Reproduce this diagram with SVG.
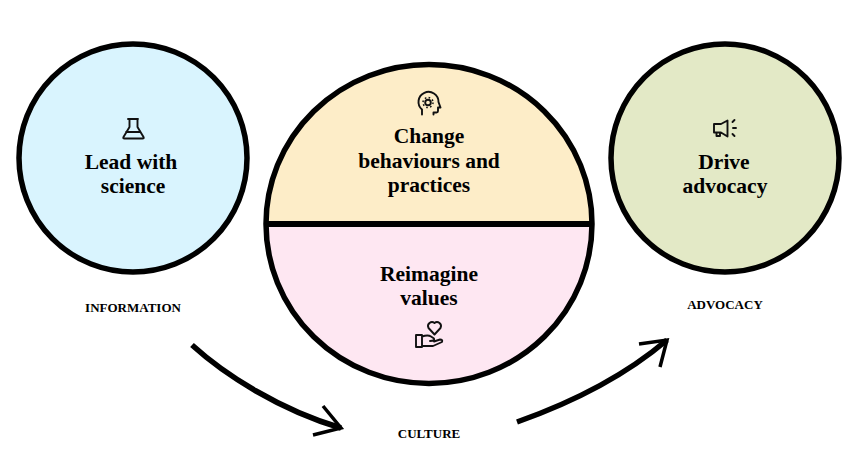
<svg xmlns="http://www.w3.org/2000/svg" width="863" height="465" viewBox="0 0 863 465">
<style>
.c{stroke:#000;stroke-width:5.500;}
.t{font-family:"Liberation Serif","DejaVu Serif",serif;font-weight:700;font-size:21.5px;fill:#000;text-anchor:middle;}
.s{font-family:"Liberation Serif","DejaVu Serif",serif;font-weight:700;font-size:13px;fill:#000;text-anchor:middle;}
.i{fill:none;stroke:#111;stroke-width:1.9;stroke-linejoin:round;stroke-linecap:round;}
.a{fill:none;stroke:#000;stroke-width:5.500;stroke-linecap:butt;}
.h{fill:none;stroke:#000;stroke-width:3.500;stroke-linejoin:miter;stroke-linecap:butt;}
</style>
<rect width="863" height="465" fill="#fff"/>
<g id="node-science">
<circle class="c" cx="133" cy="158" r="114" fill="#d9f4fe"/>
<path class="i" d="M128 119h10M129.500 119v8l-6 10q-.8 1.500 1 1.500h18q1.800 0 1-1.500l-6-10v-8M126 132h14"/>
<text class="t" x="131" y="168.500">Lead with</text>
<text class="t" x="133" y="192.500">science</text>
</g>
<g id="node-culture">
<path d="M266 224A163 160 0 0 1 592 224Z" fill="#fdedc8"/>
<path d="M266 224A163 160 0 0 0 592 224Z" fill="#fee7f2"/>
<ellipse class="c" cx="429" cy="224" rx="163" ry="159.500" fill="none"/>
<path d="M266 224H592" stroke="#000" stroke-width="6" fill="none"/>
<g id="icon-head"><path class="i" d="M422 114.500v-5a10 10 0 1 1 16.500-7.500l2 5.500h-2.500v3.500q0 1.500-1.500 1.500h-3v2"/><circle class="i" cx="428" cy="102.500" r="2.800"/><circle cx="428" cy="102.500" r="5" fill="none" stroke="#111" stroke-width="1.500" stroke-dasharray="1.600 2.330"/></g>
<text class="t" x="429" y="143">Change</text>
<text class="t" x="429" y="167.500">behaviours and</text>
<text class="t" x="429" y="192">practices</text>
<text class="t" x="429" y="281">Reimagine</text>
<text class="t" x="429" y="305">values</text>
<g id="icon-hand"><path class="i" d="M416 335h6v12h-6zM422 336.500q6-2 9 0l3 2q1 2.500-4 2.500M422 346h11l9-4q1-2.500-2-2.500l-6 2"/><path class="i" d="M434.500 334.500l-6-6.500a4 4 0 0 1 6-5a4 4 0 0 1 6 5z"/></g>
</g>
<g id="node-advocacy">
<circle class="c" cx="725" cy="158" r="114" fill="#e3e9c6"/>
<path class="i" d="M714 124h7l6.500-3.500v16l-6.500-4h-7zM716.500 132.500v3.500h3.500v-3.500M732.500 122l2-2M733 128h3M732.500 134l2 2"/>
<text class="t" x="724" y="168.500">Drive</text>
<text class="t" x="725" y="192.500">advocacy</text>
</g>
<g id="labels">
<text class="s" x="133" y="312">INFORMATION</text>
<text class="s" x="429" y="438">CULTURE</text>
<text class="s" x="725" y="309">ADVOCACY</text>
</g>
<g id="connectors">
<path class="a" d="M192 345C225 375 280 410 341 428"/>
<path class="h" d="M323 406L341 428L313 435"/>
<path class="a" d="M517 422C565 405 620 380 667 340"/>
<path class="h" d="M639 344L667 340L660 367"/>
</g>
</svg>
